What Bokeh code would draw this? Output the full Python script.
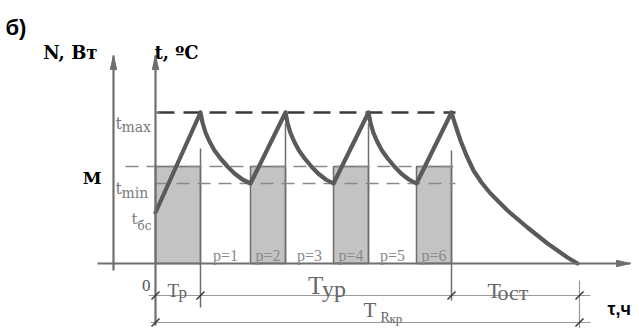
from bokeh.plotting import figure
from bokeh.models import Range1d
from bokeh.core.properties import value
from bokeh.embed import file_html
from bokeh.resources import INLINE

# ---------------- data (schematic units: time in h, temperature / power in relative units)
t_bs = 25.5          # initial temperature t_бс
t_min = 40.0         # lower temperature limit
t_max = 75.5         # upper temperature limit
M_power = 48.5       # heater power level M
peak_times = [4.5, 13.0, 21.3, 29.6]    # heating ends (t reaches t_max)
min_times = [9.5, 17.8, 26.1]           # cooling ends (t reaches t_min)
end_time = 42.2                          # end of final cooling (T_ост)
TR_end = 42.4                            # end of T_Rкр
cycle_decay_dt = [0.0, 0.2, 0.5, 0.9, 1.4, 2.0, 2.7, 3.4, 4.2, 5.0]
cycle_decay_t = [75.5, 70.5, 65.5, 61.0, 56.5, 52.5, 48.5, 45.0, 42.0, 40.0]
final_decay_dt = [0.0, 0.4, 0.9, 1.5, 2.2, 3.0, 3.9, 5.6, 7.6, 9.6, 11.6, 12.6]
final_decay_t = [75.5, 69.0, 61.5, 54.0, 46.5, 40.5, 35.0, 26.5, 18.0, 10.0, 3.0, 0.0]
p_labels = ["p=1", "p=2", "p=3", "p=4", "p=5", "p=6"]

# ---------------- figure
W, H = 639, 328
XS, YS = 10.0, 2.0   # pixels per data unit
X0, Y0 = -15.5, -32.5
p = figure(width=W, height=H, x_range=Range1d(X0, X0 + W / XS), y_range=Range1d(Y0, Y0 + H / YS),
           x_axis_type=None, y_axis_type=None, toolbar_location=None, output_backend="svg",
           min_border=0, background_fill_color="white", border_fill_color="white")
p.outline_line_color = None
p.grid.visible = False


def dx(px):
    return px / XS


def dy(px):          # screen pixels downward -> data
    return -px / YS


AX = "#6f6f6f"
TXT = "#666666"

# ---------------- layout anchors
N_X = -4.2
AX_TOP = 104.0
X_LEFT = -5.8
X_TIP = 47.5
dim1 = -16.0
dim2 = -29.5

# ---------------- shaded power bars
bar_left = [0.0] + min_times
bar_right = peak_times
p.quad(left=bar_left, right=bar_right, bottom=[0] * 4, top=[M_power] * 4,
       fill_color="#c3c3c3", line_color="#6e6e6e", line_width=1.5)

# ---------------- vertical guide lines
p.segment(x0=[peak_times[0]], y0=[57.5], x1=[peak_times[0]], y1=[dim1 + dy(12)], line_color=AX, line_width=1.5)
p.segment(x0=peak_times[1:3], y0=[70, 70], x1=peak_times[1:3], y1=[0, 0], line_color=AX, line_width=1.5)
p.segment(x0=[peak_times[3]], y0=[56.5], x1=[peak_times[3]], y1=[dim1 + dy(5)], line_color=AX, line_width=1.5)
p.segment(x0=[TR_end], y0=[dim1 + dy(-15)], x1=[TR_end], y1=[Y0], line_color="#999999", line_width=1.2)

# ---------------- dashed levels
p.line([0.2, 30.0], [t_max, t_max], line_color="#3a3a3a", line_width=2.5, line_dash="17 9")
p.line([-3.0, 30.0], [M_power, M_power], line_color="#8a8a8a", line_width=1.5, line_dash="13 8")
p.line([0.0, 30.0], [t_min, t_min], line_color="#8a8a8a", line_width=1.5, line_dash="13 8")

# ---------------- temperature curve
cx, cy = [0.0, peak_times[0]], [t_bs, t_max]
for i in range(3):
    span = min_times[i] - peak_times[i]
    k = span / cycle_decay_dt[-1]
    for d, t in zip(cycle_decay_dt[1:], cycle_decay_t[1:]):
        cx.append(peak_times[i] + d * k)
        cy.append(t)
    cx.append(peak_times[i + 1])
    cy.append(t_max)
for d, t in zip(final_decay_dt[1:], final_decay_t[1:]):
    cx.append(peak_times[3] + d)
    cy.append(t)
p.line(cx, cy, line_color="#5a5a5a", line_width=4.2, line_join="round", line_cap="round")

# ---------------- axes
p.segment(x0=[N_X], y0=[dy(7)], x1=[N_X], y1=[AX_TOP], line_color=AX, line_width=2.2)
p.segment(x0=[0.0], y0=[Y0 + 1.5], x1=[0.0], y1=[AX_TOP], line_color=AX, line_width=2.2)
p.segment(x0=[X_LEFT], y0=[0.0], x1=[X_TIP], y1=[0.0], line_color=AX, line_width=2.2)
p.segment(x0=[0.0], y0=[t_max], x1=[dx(5)], y1=[t_max], line_color=AX, line_width=1.5)
hl, hw = 14, 3.2
p.patches(xs=[[N_X - dx(hw), N_X, N_X + dx(hw)], [-dx(hw), 0, dx(hw)],
              [X_TIP - dx(hl), X_TIP, X_TIP - dx(hl)]],
          ys=[[AX_TOP - hl / YS, AX_TOP, AX_TOP - hl / YS], [AX_TOP - hl / YS, AX_TOP, AX_TOP - hl / YS],
              [hw / YS, 0, -hw / YS]],
          fill_color=AX, line_color=AX, line_width=1)

# ---------------- dimension lines
p.segment(x0=[-0.7, -0.5], y0=[dim1, dim2], x1=[43.5, 43.5], y1=[dim1, dim2],
          line_color="#999999", line_width=1.2)
sx = [0.0, peak_times[0], peak_times[3], TR_end, 0.0, TR_end]
sy = [dim1, dim1, dim1, dim1, dim2, dim2]
p.segment(x0=[x - dx(4) for x in sx], y0=[y - 4 / YS for y in sy],
          x1=[x + dx(4) for x in sx], y1=[y + 4 / YS for y in sy], line_color="#333333", line_width=1.5)


# ---------------- texts
def txt(x, y, s, size, color=TXT, font="Liberation Serif", style="normal", align="left"):
    p.text(x=[x], y=[y], text=[s], text_font=value(font), text_font_size=f"{size}px",
           text_color=color, text_font_style=style, text_align=align, text_baseline="alphabetic")


txt(N_X + dx(-108), AX_TOP + dy(-28), "б)", 22, "black", "Liberation Sans", "bold")
txt(N_X + dx(-16), AX_TOP + dy(-3), "N, Вт", 18, "black", "DejaVu Serif", "bold", "right")
txt(dx(-1), AX_TOP + dy(-3), "t, ºC", 18, "black", "DejaVu Serif", "bold")
txt(-3.0 + dx(-24), M_power + dy(11), "M", 17, "black", "DejaVu Serif", "bold", "right")

LC = "#7a7a7a"
txt(dx(-40), t_max + dy(11), "t", 16, LC, "DejaVu Serif")
txt(dx(-34), t_max + dy(14), "max", 14, LC, "DejaVu Serif")
txt(dx(-40), t_min + dy(5), "t", 16, LC, "DejaVu Serif")
txt(dx(-34), t_min + dy(9), "min", 14, LC, "DejaVu Serif")
txt(dx(-24), t_bs + dy(6), "t", 15, LC, "DejaVu Serif")
txt(dx(-18), t_bs + dy(13), "бс", 12, LC, "DejaVu Serif")

edges = sorted(peak_times + min_times)
for lab, a, b in zip(p_labels, edges[:-1], edges[1:]):
    txt((a + b) / 2, dy(-8), lab, 16, "#8a8a8a", align="center")

txt(dx(-5), dy(22), "0", 17, "#555555", align="right")
txt(dx(12), dy(27), "T", 19)
txt(dx(23), dy(29), "р", 17)
mid = (peak_times[0] + peak_times[3]) / 2
txt(mid + dx(-18), dy(22), "T", 25)
txt(mid + dx(-4), dy(25), "ур", 24)
mid = (peak_times[3] + TR_end) / 2
txt(mid + dx(-28), dy(27), "T", 22)
txt(mid + dx(-18), dy(29), "ост", 22)
mid = TR_end / 2
txt(mid + dx(-4), dy(46), "T", 21)
txt(mid + dx(13), dy(54), "R", 14)
txt(mid + dx(22), dy(55), "кр", 13)
txt(X_TIP + dx(-23), dy(45), "τ,ч", 18, "black", "Liberation Sans", "bold")

open("out.html", "w").write(file_html(p, INLINE))
